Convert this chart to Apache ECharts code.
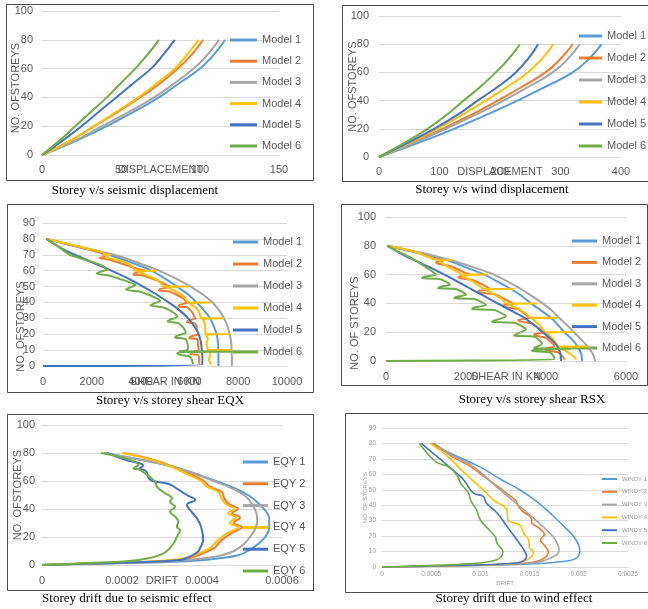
<!DOCTYPE html>
<html><head><meta charset="utf-8">
<script src="https://cdn.jsdelivr.net/npm/echarts@6/dist/echarts.min.js"></script>
<style>html,body{margin:0;padding:0;background:#fff}#c{width:648px;height:609px}</style>
</head><body><div id="c"></div>
<script>
// ---------- names & colours ----------
const modelNames = ['Model 1','Model 2','Model 3','Model 4','Model 5','Model 6'];
const eqyNames = ['EQY 1','EQY 2','EQY 3','EQY 4','EQY 5','EQY 6'];
const windyNames = ['WINDY 1','WINDY 2','WINDY 3','WINDY 4','WINDY 5','WINDY 6'];
const colors = ['#5B9BD5','#ED7D31','#A5A5A5','#FFC000','#4472C4','#70AD47'];

// ---------- panel 1 : seismic displacement (value at storeys) ----------
const dispStoreys = [0,10,20,30,40,50,60,70,80];
const seisM1 = [0,22,41,58,74,87,100,109,116];
const seisM2 = [0,18,33,48,62,75,86,95,102];
const seisM3 = [0,21,38,55,71,84,96,105,112];
const seisM4 = [0,18,33,47,61,73,84,92,99];
const seisM5 = [0,13,25,36,47,58,69,77,84];
const seisM6 = [0,11,21,31,41,50,59,67,74];

// ---------- panel 2 : wind displacement ----------
const windM1 = [0,65,124,178,229,276,320,348,368];
const windM2 = [0,55,105,153,196,237,275,301,320];
const windM3 = [0,58,110,160,206,248,287,313,332];
const windM4 = [0,50,96,138,176,213,246,270,288];
const windM5 = [0,47,91,130,163,197,226,247,263];
const windM6 = [0,42,80,112,140,168,193,215,233];

// ---------- panel 3 : storey shear EQX  [shear, storey] ----------
const eqxM1 = [[137,80],[1400,75],[2700,70],[3650,65],[4450,60],[5000,55],[5500,50],[5950,45],[6300,40],[6600,35],[6850,30],[7000,25],[7120,20],[7170,15],[7190,10],[7190,5],[7190,0]];
const eqxM2 = [[137,80],[900,77],[1700,74],[2400,71],[2550,69],[2300,68],[2700,67],[3100,65],[3500,63],[3900,61],[4200,60],[3800,58.5],[3700,57.5],[4100,57],[4450,55],[4800,53],[5050,51],[5200,50],[4800,48.5],[4750,47.5],[5150,47],[5450,45],[5700,43],[5850,41],[5950,40],[5600,38.5],[5550,37.5],[5900,37],[6050,35],[6150,33],[6200,31],[6250,30],[5950,28.5],[5900,27.5],[6200,27],[6300,25],[6300,23],[6350,21],[6350,20],[6050,18.5],[6000,17.5],[6300,17],[6350,15],[6350,13],[6380,11],[6380,10],[6100,8.5],[6050,7.5],[6350,7],[6400,5],[6400,3],[6420,1]];
const eqxM3 = [[137,80],[1500,75],[2900,70],[3900,65],[4750,60],[5450,55],[6050,50],[6550,45],[6950,40],[7220,35],[7420,30],[7560,25],[7650,20],[7710,15],[7730,10],[7740,5],[7740,0]];
const eqxM4 = [[137,80],[1000,77],[1800,74],[2500,71],[2500,70],[2750,70],[2600,68],[3000,67],[3400,65],[3700,62],[3750,60],[4660,60],[3900,59.5],[4100,58],[4400,56],[4700,54],[4900,51],[4950,50],[5960,50],[5100,49.5],[5300,48],[5550,46],[5750,44],[5900,41],[5950,40],[6850,40],[6000,39.5],[6150,38],[6300,36],[6400,34],[6450,31],[6450,30],[7420,30],[6550,29.5],[6600,28],[6650,25],[6650,21],[6650,20],[7640,20],[6700,19.5],[6750,17],[6700,14],[6750,11],[6750,10],[7740,10],[6800,9.5],[6850,7],[6800,4],[6900,1]];
const eqxM5 = [[137,80],[650,75],[1300,70],[2050,65],[2800,60],[3500,55],[4100,50],[4650,45],[5150,40],[5600,35],[5950,30],[6200,25],[6380,20],[6470,15],[6510,10],[6530,5],[6530,1],[0,0]];
const eqxM6 = [[137,80],[550,76],[900,72],[1100,70],[1500,68],[1900,66],[2300,64],[2650,61],[2300,59],[2200,58],[2700,57],[3100,55],[3500,53],[3800,51],[3500,49],[3400,48],[3900,47],[4300,45],[4600,43],[4800,41],[4500,39],[4400,38],[4900,37],[5200,35],[5400,33],[5500,31],[5200,29],[5100,28],[5550,27],[5700,25],[5800,23],[5850,21],[5500,19],[5400,18],[5850,17],[5900,15],[5950,12],[5900,10],[5600,9.2],[7800,9],[5700,8.8],[5500,8],[5600,7],[6000,6],[6100,4],[6150,1]];

// ---------- panel 4 : storey shear RSX  [shear, storey] ----------
const rsxM1 = [[40,80],[800,75],[1540,70],[2000,65],[2460,60],[2800,55],[3125,50],[3400,45],[3625,40],[3880,35],[4125,30],[4300,25],[4460,20],[4650,15],[4790,10],[4880,5],[4900,0]];
const rsxM2 = [[40,80],[700,76],[1300,72],[1450,70],[1250,68.5],[1300,67.5],[1600,66],[2000,61],[2100,60],[1800,58.5],[1850,57.5],[2200,56],[2550,51],[2600,50],[2300,48.5],[2350,47.5],[2750,46],[3100,41],[3200,40],[2900,38.5],[2950,37.5],[3300,36],[3550,31],[3600,30],[3300,28.5],[3350,27.5],[3650,26],[3900,21],[3960,20],[3700,18.5],[3750,17.5],[4000,16],[4200,11],[4210,10],[3950,8.5],[4000,7.5],[4300,6],[4420,3],[4460,1]];
const rsxM3 = [[40,80],[900,75],[1625,70],[2200,65],[2700,60],[3050,55],[3375,50],[3650,45],[3920,40],[4150,35],[4330,30],[4520,25],[4700,20],[4880,15],[5040,10],[5170,5],[5230,0]];
const rsxM4 = [[40,80],[700,76],[1330,70],[1660,70],[1350,69.5],[1500,66],[1850,61],[1875,60],[2540,60],[1900,59.5],[2050,57],[2300,53],[2460,50],[3210,50],[2500,49.5],[2650,47],[2900,43],[3000,40],[3790,40],[3050,39.5],[3250,37],[3500,33],[3625,30],[4290,30],[3650,29.5],[3800,26],[3950,21],[3960,20],[4670,20],[4000,19.5],[4150,16],[4280,11],[4290,10],[5040,10],[4350,9.5],[4550,6],[4700,3],[4750,1]];
const rsxM5 = [[40,80],[350,75],[710,70],[1100,65],[1460,60],[1800,55],[2125,50],[2460,45],[2790,40],[3130,35],[3460,30],[3700,25],[3920,20],[4130,15],[4290,10],[4360,5],[4375,0]];
const rsxM6 = [[40,80],[300,76],[670,71],[950,66],[1250,60],[950,58.5],[900,57.5],[1350,57],[1600,53],[1350,51.5],[1300,50.5],[1750,50],[2000,46],[1750,44.5],[1700,43.5],[2200,43],[2500,39],[2200,37],[2150,36],[2700,35.5],[3000,31],[2700,28],[2650,27],[3200,26.5],[3500,22],[3250,18.5],[3200,17.5],[3700,17],[3900,12],[3700,9],[4650,8.5],[3700,8],[3650,7],[4100,6],[4200,3],[4210,1],[0,0]];

// ---------- panel 5 : seismic drift  [drift, storey] ----------
const eqy1 = [[0,0],[0.00014,1],[0.0003,2],[0.00038,3],[0.00045,5],[0.00049,7],[0.000515,10],[0.00054,15],[0.000558,20],[0.000568,27],[0.000568,33],[0.000555,40],[0.000515,50],[0.000435,60],[0.00033,70],[0.00025,75],[0.000155,80]];
const eqy2 = [[0,0],[0.00011,1],[0.00024,2],[0.00032,3],[0.00037,5],[0.0004,8],[0.00043,12],[0.00044,15],[0.000455,19],[0.000475,23],[0.0005,27],[0.00048,30],[0.000495,34],[0.000475,37],[0.00049,40],[0.000465,44],[0.000455,48],[0.00045,52],[0.00042,56],[0.000405,60],[0.00037,65],[0.00033,70],[0.00028,75],[0.000205,80]];
const eqy3 = [[0,0],[0.00012,1],[0.00026,2],[0.00034,3],[0.00041,5],[0.00045,7],[0.00048,10],[0.000505,15],[0.00052,20],[0.000535,27],[0.000538,33],[0.000532,40],[0.000505,50],[0.00043,60],[0.00033,70],[0.00025,75],[0.000155,80]];
const eqy4 = [[0,0],[0.0001,1],[0.00022,2],[0.0003,3],[0.00036,5],[0.00039,8],[0.00042,12],[0.00043,15],[0.000445,19],[0.000465,23],[0.00049,27],[0.00047,30],[0.000485,34],[0.000465,37],[0.00048,40],[0.000458,44],[0.000448,48],[0.000442,52],[0.000412,56],[0.000398,60],[0.000362,65],[0.000325,70],[0.000275,75],[0.0002,80]];
const eqy5 = [[0,0],[0.00012,1],[0.00024,2],[0.000345,3.6],[0.00037,6],[0.00039,9.5],[0.000395,12],[0.000403,18],[0.000398,27],[0.000388,33],[0.000374,38],[0.000362,43],[0.000383,46.5],[0.000362,50],[0.00034,54],[0.000316,58],[0.00027,61],[0.00026,67],[0.000245,69],[0.000253,71],[0.00021,75],[0.000162,80]];
const eqy6 = [[0,0],[0.00012,1.5],[0.000241,3.6],[0.000304,8.3],[0.000329,15.5],[0.000337,20.2],[0.000345,25],[0.000337,27.4],[0.000341,31],[0.000333,34.5],[0.00032,38.1],[0.000333,41.7],[0.00032,45.2],[0.000325,47.6],[0.000308,51.2],[0.000287,55.9],[0.000283,59.5],[0.000245,67.9],[0.000229,69],[0.000241,71.4],[0.000148,80]];

// ---------- panel 6 : wind drift  [drift, storey] ----------
const windy1 = [[0,0],[0.0008,0.8],[0.0015,1.9],[0.0019,4],[0.00198,6],[0.00201,10],[0.002,14],[0.00195,19.6],[0.00187,25],[0.00174,33],[0.00158,42],[0.0014,50],[0.0012,57],[0.00099,65],[0.00075,72],[0.0005,80]];
const windy2 = [[0,0],[0.0007,0.8],[0.00145,2.4],[0.00163,5],[0.00169,9.8],[0.00165,14],[0.00161,17.4],[0.00165,21],[0.0016,25],[0.00152,29],[0.00152,31],[0.00143,36],[0.00138,40],[0.00136,43],[0.00128,47],[0.00118,52],[0.00105,58],[0.0009,65],[0.0007,72],[0.00052,80]];
const windy3 = [[0,0],[0.0007,0.8],[0.0013,2],[0.0016,3.4],[0.00177,7.7],[0.0018,11],[0.00179,14],[0.00174,19.6],[0.0016,28.3],[0.0014,39.2],[0.0012,49.9],[0.00093,65],[0.00072,72],[0.00053,80]];
const windy4 = [[0,0],[0.0006,0.8],[0.00127,1.9],[0.00147,4.5],[0.00154,10],[0.0015,12.1],[0.00149,17.5],[0.00144,21.8],[0.0014,27.2],[0.00128,30.4],[0.00127,37],[0.00113,43.4],[0.00103,49.9],[0.00086,59.6],[0.00066,72],[0.00049,80]];
const windy5 = [[0,0],[0.0006,0.8],[0.00137,2.6],[0.00147,6.9],[0.00144,11.2],[0.00137,17.7],[0.00127,26.3],[0.00117,35],[0.00106,41.4],[0.00103,45.7],[0.00093,47.8],[0.00083,56.4],[0.00076,60.7],[0.0006,69.3],[0.0004,80]];
const windy6 = [[0,0],[0.0004,0.8],[0.00083,1.9],[0.00116,4.5],[0.00123,9.9],[0.00117,15.3],[0.00115,19.6],[0.00109,24],[0.001,30.4],[0.00096,37],[0.0009,43.4],[0.00088,47.8],[0.0008,54.2],[0.00076,59.6],[0.00067,65],[0.00055,68],[0.00038,80]];

// ---------- panel settings ----------
const panels = [
  {grid:{left:42,top:11,width:237,height:144}, x:[0,150,50], y:[0,100,20], xName:'DISPLACEMENT', yName:'NO. OFSTOREYS',
   names:modelNames, data:[seisM1,seisM2,seisM3,seisM4,seisM5,seisM6].map(a=>a.map((v,i)=>[v,dispStoreys[i]])),
   smooth:true, fs:11, xm:9, ym:9, yGap:21, yPad:10, leg:{left:230,top:34.5,w:27,gap:10.2}},
  {grid:{left:379,top:16,width:242,height:141}, x:[0,400,100], y:[0,100,20], xName:'DISPLACEMENT', yName:'NO. OFSTOREYS',
   names:modelNames, data:[windM1,windM2,windM3,windM4,windM5,windM6].map(a=>a.map((v,i)=>[v,dispStoreys[i]])),
   smooth:true, fs:11, xm:9, ym:10, yGap:21, yPad:0, leg:{left:579,top:30.5,w:23,gap:11}},
  {grid:{left:43,top:223,width:244,height:143}, x:[0,10000,2000], y:[0,90,10], xName:'SHEAR IN KN', yName:'NO. OFSTOREYS',
   names:modelNames, data:[eqxM1,eqxM2,eqxM3,eqxM4,eqxM5,eqxM6], plain:true,
   smooth:0.2, fs:11, xm:10, ym:8, yGap:17, yPad:64, leg:{left:233,top:236.5,w:25,gap:11}},
  {grid:{left:386,top:217,width:240,height:144}, x:[0,6000,2000], y:[0,100,20], xName:'SHEAR IN KN', yName:'NO. OF STOREYS',
   names:modelNames, data:[rsxM1,rsxM2,rsxM3,rsxM4,rsxM5,rsxM6], plain:true,
   smooth:0.2, fs:11, xm:10, ym:10, yGap:26, yPad:68, leg:{left:572,top:235.5,w:25,gap:10.4}},
  {grid:{left:42,top:425,width:240,height:140}, x:[0,0.0006,0.0002], y:[0,100,20], xName:'DRIFT', yName:'NO. OFSTOREYS',
   names:eqyNames, data:[eqy1,eqy2,eqy3,eqy4,eqy5,eqy6],
   smooth:0.4, fs:11, xm:10, ym:7, yGap:19, yPad:0, leg:{left:243,top:456.5,w:25,gap:10.8}},
  {grid:{left:382,top:428,width:246,height:139}, x:[0,0.0025,0.0005], y:[0,90,10], xName:'DRIFT', yName:'NO. OF STOREYS',
   names:windyNames, data:[windy1,windy2,windy3,windy4,windy5,windy6],
   smooth:0.4, fs:6.5, xm:4, ym:6, yGap:14, yPad:0, small:true, leg:{left:602,top:476,w:15,gap:6.8}}
];

const grids=[], xAxes=[], yAxes=[], legends=[], series=[];
panels.forEach((p, gi) => {
  const labCol = p.small ? '#9a9a9a' : '#595959';
  grids.push(Object.assign({containLabel:false, outerBoundsMode:'none'}, p.grid));
  xAxes.push({type:'value', gridIndex:gi, min:p.x[0], max:p.x[1], interval:p.x[2],
    name:p.xName, nameLocation:'middle', nameGap:p.small?13:p.xm, nameMoveOverlap:false,
    nameTextStyle:{color:labCol, fontSize:p.small?6:p.fs, fontFamily:'Liberation Sans'},
    axisLine:{show:true, lineStyle:{color:'#d9d9d9', width:1}}, axisTick:{show:false},
    axisLabel:{color:labCol, fontSize:p.fs, margin:p.xm, fontFamily:'Liberation Sans',
      formatter: p.plain ? (v => String(v)) : undefined},
    splitLine:{show:false}});
  yAxes.push({type:'value', gridIndex:gi, min:p.y[0], max:p.y[1], interval:p.y[2],
    name:p.yName, nameLocation:'middle', nameGap:p.yGap, nameMoveOverlap:false,
    nameTextStyle:{color:labCol, fontSize:p.small?6:p.fs, fontFamily:'Liberation Sans', padding:[0,p.yPad,0,0]},
    axisLine:{show:false}, axisTick:{show:false},
    axisLabel:{color:labCol, fontSize:p.fs, margin:p.ym, fontFamily:'Liberation Sans'},
    splitLine:{show:true, lineStyle:{color:'#d9d9d9', width:1}}});
  legends.push({orient:'vertical', left:p.leg.left, top:p.leg.top, itemWidth:p.leg.w, itemHeight:p.small?2:3,
    itemGap:p.leg.gap, icon:'rect', padding:0, data:p.names, selectedMode:false,
    textStyle:{color:labCol, fontSize:p.small?6:11, fontFamily:'Liberation Sans'}});
  p.data.forEach((d, si) => {
    series.push({type:'line', name:p.names[si], xAxisIndex:gi, yAxisIndex:gi, data:d,
      symbol:'none', showSymbol:false, smooth:p.smooth, animation:false,
      lineStyle:{color:colors[si], width:p.small?1.6:2}, itemStyle:{color:colors[si]}, z:2+si});
  });
});

const borders = [[6,4,307,176],[342,5,310,176],[7,204,306,188],[341,204,306,181],[7,414,306,176],[345,413,305,179]];
const captions = [
  ['Storey v/s seismic displacement',135,191],
  ['Storey v/s wind displacement',492,190],
  ['Storey v/s storey shear EQX',170,401],
  ['Storey v/s storey shear RSX',532,400],
  ['Storey drift due to seismic effect',127,599],
  ['Storey drift due to wind effect',514,599]
];
const graphic = [];
borders.forEach(b => graphic.push({type:'rect', shape:{x:b[0]+0.5,y:b[1]+0.5,width:b[2],height:b[3]}, style:{fill:'none', stroke:'#4d4d4d', lineWidth:1}, z:-1}));
captions.forEach(c => graphic.push({type:'text', x:c[1], y:c[2], style:{text:c[0], fill:'#000', font:'13px "Liberation Serif"', textAlign:'center', textVerticalAlign:'middle'}}));

const chart = echarts.init(document.getElementById('c'));
chart.setOption({backgroundColor:'#fff', animation:false, color:colors,
  grid:grids, xAxis:xAxes, yAxis:yAxes, legend:legends, series:series, graphic:graphic});
</script></body></html>
